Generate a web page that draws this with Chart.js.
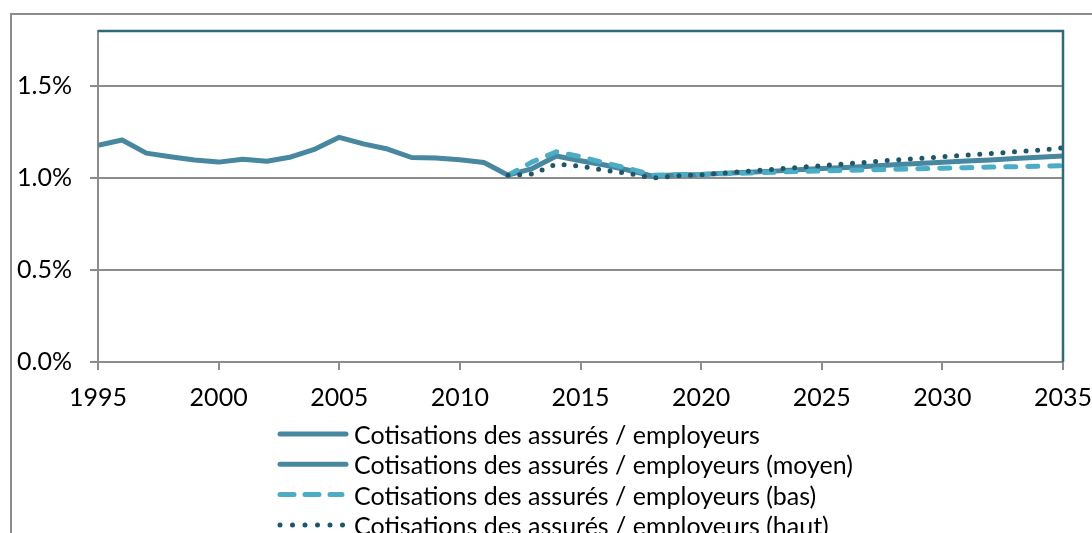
<!DOCTYPE html>
<html>
<head>
<meta charset="utf-8">
<script src="https://cdn.jsdelivr.net/npm/chart.js@4.4.1/dist/chart.umd.min.js"></script>
<style>
  html, body { margin: 0; padding: 0; background: #fff; overflow: hidden; }
  #wrap { position: relative; width: 1092px; height: 533px; }
  #frame { position: absolute; left: 10px; top: 13px; width: 1100px; height: 600px;
           border-left: 2px solid #8c8c8c; border-top: 2px solid #8c8c8c; }
  canvas { position: absolute; left: 0; top: 0; }
</style>
</head>
<body>
<div id="wrap">
  <div id="frame"></div>
  <canvas id="c" width="1092" height="533"></canvas>
</div>
<script>
// ---- Data (shares of contributions, in %) ----
const histYears = [1995,1996,1997,1998,1999,2000,2001,2002,2003,2004,2005,2006,2007,2008,2009,2010,2011,2012];
const histValues = [1.179,1.207,1.136,1.116,1.098,1.087,1.103,1.092,1.115,1.158,1.222,1.186,1.158,1.112,1.110,1.100,1.085,1.016];

const projYears = [2012,2013,2014,2015,2016,2017,2018,2019,2020,2021,2022,2023,2024,2025,2026,2027,2028,2029,2030,2031,2032,2033,2034,2035];
const moyenValues = [1.016,1.052,1.120,1.094,1.071,1.043,1.011,1.018,1.020,1.026,1.032,1.038,1.045,1.052,1.058,1.065,1.072,1.079,1.086,1.093,1.099,1.106,1.113,1.120];
const basValues   = [1.016,1.088,1.143,1.116,1.083,1.052,1.016,1.019,1.020,1.024,1.028,1.032,1.036,1.039,1.042,1.045,1.048,1.051,1.054,1.057,1.060,1.062,1.065,1.067];
const hautValues  = [1.016,1.022,1.076,1.065,1.043,1.025,1.000,1.012,1.018,1.028,1.038,1.048,1.058,1.068,1.078,1.088,1.098,1.107,1.116,1.125,1.134,1.143,1.152,1.165];

const seriesLabels = [
  'Cotisations des assurés / employeurs',
  'Cotisations des assurés / employeurs (moyen)',
  'Cotisations des assurés / employeurs (bas)',
  'Cotisations des assurés / employeurs (haut)'
];
const xTickStep = 5;
const yTicks = [0, 0.5, 1.0, 1.5];

const C_MAIN = '#4787a0';
const C_BAS = '#4bacc6';
const C_HAUT = '#1f5768';
const FONT = 'Lato, "Open Sans", sans-serif';
const FSIZE = 25;

const toPts = (xs, ys) => xs.map((x, i) => ({x: x, y: ys[i]}));

const datasets = [
  { label: seriesLabels[0], data: toPts(histYears, histValues), borderColor: C_MAIN, borderWidth: 5, order: 3, legendDash: [], legendEnd: 346 },
  { label: seriesLabels[1], data: toPts(projYears, moyenValues), borderColor: C_MAIN, borderWidth: 5, order: 2, legendDash: [], legendEnd: 346 },
  { label: seriesLabels[2], data: toPts(projYears, basValues), borderColor: C_BAS, borderWidth: 5, borderDash: [10, 12], borderCapStyle: 'round', order: 1, legendDash: [14, 11], legendEnd: 342 },
  { label: seriesLabels[3], data: toPts(projYears, hautValues), borderColor: C_HAUT, borderWidth: 5, borderDash: [0, 11.6], borderCapStyle: 'round', order: 0, legendDash: [0, 12.5], legendEnd: 343 }
].map(d => Object.assign({ pointRadius: 0, fill: false, tension: 0, borderJoinStyle: 'round' }, d));

const framePlugin = {
  id: 'framePlugin',
  afterDatasetsDraw(chart) {
    const {ctx, chartArea: a} = chart;
    ctx.save();
    ctx.strokeStyle = '#2f6a7b';
    ctx.lineWidth = 2.5;
    ctx.beginPath();
    ctx.moveTo(a.left, a.top);
    ctx.lineTo(a.right, a.top);
    ctx.lineTo(a.right, a.bottom);
    ctx.stroke();
    ctx.restore();
  },
  afterDraw(chart) {
    const ctx = chart.ctx;
    const x0 = 280, tx = 354, y0 = 434, dy = 30.3;
    ctx.save();
    chart.data.datasets.forEach((ds, i) => {
      const y = y0 + i * dy;
      ctx.strokeStyle = ds.borderColor;
      ctx.lineWidth = ds.borderWidth;
      ctx.lineCap = 'round';
      ctx.setLineDash(ds.legendDash);
      ctx.beginPath();
      ctx.moveTo(x0, y);
      ctx.lineTo(ds.legendEnd, y);
      ctx.stroke();
      ctx.setLineDash([]);
      ctx.fillStyle = '#000';
      ctx.font = FSIZE + 'px ' + FONT;
      ctx.textAlign = 'left';
      ctx.textBaseline = 'alphabetic';
      ctx.fillText(ds.label, tx, y + 10);
    });
    ctx.restore();
  }
};

new Chart(document.getElementById('c'), {
  type: 'line',
  data: { datasets },
  options: {
    responsive: false,
    animation: false,
    events: [],
    layout: { padding: { top: 31, right: 29, left: 0, bottom: 0 } },
    plugins: { legend: { display: false }, tooltip: { enabled: false } },
    scales: {
      x: {
        type: 'linear', min: 1995, max: 2035,
        afterFit(s) { s.height = 171; s.paddingLeft = 0; s.paddingRight = 0; },
        grid: { drawOnChartArea: false, drawTicks: true, tickLength: 8, color: '#8c8c8c', lineWidth: 2 },
        border: { color: '#8c8c8c', width: 2 },
        ticks: { stepSize: xTickStep, padding: 13, color: '#000', font: { size: FSIZE, family: FONT },
                 maxRotation: 0, autoSkip: false, callback: v => String(v) }
      },
      y: {
        min: 0, max: 1.8,
        afterFit(s) { s.width = 98; s.paddingTop = 0; s.paddingBottom = 0; },
        afterBuildTicks(s) { s.ticks = yTicks.map(v => ({ value: v })); },
        grid: { color: '#8c8c8c', lineWidth: 2, tickLength: 8 },
        border: { color: '#8c8c8c', width: 2 },
        ticks: { padding: 18, color: '#000', font: { size: FSIZE, family: FONT },
                 callback: v => v.toFixed(1) + '%' }
      }
    }
  },
  plugins: [framePlugin]
});
</script>
</body>
</html>
